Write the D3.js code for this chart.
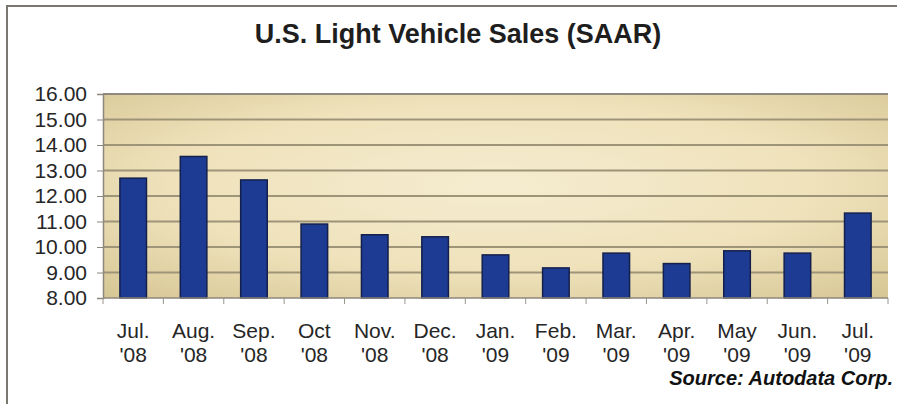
<!DOCTYPE html>
<html>
<head>
<meta charset="utf-8">
<style>
  body { margin: 0; background: #fff; }
  svg { display: block; font-family: "Liberation Sans", Arial, sans-serif; }
</style>
</head>
<body>
<svg width="897" height="404"></svg>
<script src="https://d3js.org/d3.v7.min.js"></script>
<script>
// chart data
var months = ["Jul.", "Aug.", "Sep.", "Oct", "Nov.", "Dec.", "Jan.", "Feb.", "Mar.", "Apr.", "May", "Jun.", "Jul."];
var years  = ["'08", "'08", "'08", "'08", "'08", "'08", "'09", "'09", "'09", "'09", "'09", "'09", "'09"];
var sales  = [12.70, 13.55, 12.63, 10.90, 10.48, 10.40, 9.69, 9.18, 9.76, 9.35, 9.85, 9.76, 11.33];
var yTicks = [8, 9, 10, 11, 12, 13, 14, 15, 16];

var data = months.map(function(m, i) {
  return { key: i, month: m, year: years[i], value: sales[i] };
});

var svg = d3.select("svg"),
    margin = { top: 94, right: 9, bottom: 106, left: 103 },
    width = +svg.attr("width") - margin.left - margin.right,
    height = +svg.attr("height") - margin.top - margin.bottom;

// outer frame: only top and left edges show
svg.append("path")
    .attr("d", "M7,404V6H897")
    .attr("fill", "none")
    .attr("stroke", "#7a7670")
    .attr("stroke-width", 2);

svg.append("text")
    .attr("x", 458)
    .attr("y", 43)
    .attr("text-anchor", "middle")
    .attr("font-size", 27)
    .attr("font-weight", "bold")
    .attr("fill", "#1e1e1e")
    .text("U.S. Light Vehicle Sales (SAAR)");

var defs = svg.append("defs");
var grad = defs.append("radialGradient")
    .attr("id", "bg")
    .attr("cx", "0.5").attr("cy", "0.45").attr("r", "0.75");
grad.append("stop").attr("offset", "0%").attr("stop-color", "#f5ecd0");
grad.append("stop").attr("offset", "55%").attr("stop-color", "#efe2bb");
grad.append("stop").attr("offset", "100%").attr("stop-color", "#d6c593");

var g = svg.append("g").attr("transform", "translate(" + margin.left + "," + margin.top + ")");

var x = d3.scaleBand()
    .domain(data.map(function(d) { return d.key; }))
    .range([0, width])
    .paddingInner(0.56)
    .paddingOuter(0.28);

var y = d3.scaleLinear()
    .domain([8, 16])
    .range([height, 0]);

g.append("rect")
    .attr("width", width)
    .attr("height", height)
    .attr("fill", "url(#bg)");

// gridlines
g.selectAll(".grid")
  .data(yTicks.slice(1))
  .enter().append("line")
    .attr("class", "grid")
    .attr("x1", 0)
    .attr("x2", width)
    .attr("y1", function(d) { return y(d); })
    .attr("y2", function(d) { return y(d); })
    .attr("stroke", function(d) { return d == 16 ? "#8f8a80" : "#9e9478"; })
    .attr("stroke-width", 2);

// y axis
var yAxis = g.append("g")
    .call(d3.axisLeft(y).tickValues(yTicks).tickFormat(d3.format(".2f")).tickSize(6).tickPadding(10));
yAxis.select(".domain").attr("stroke", "#8c877c").attr("stroke-width", 1.5);
yAxis.selectAll(".tick line").attr("stroke", "#8c877c");
yAxis.selectAll("text")
    .attr("font-size", 21)
    .attr("fill", "#262626")
    .attr("font-family", "Liberation Sans, Arial, sans-serif");

// bars
g.selectAll(".bar")
  .data(data)
  .enter().append("rect")
    .attr("class", "bar")
    .attr("x", function(d) { return x(d.key); })
    .attr("y", function(d) { return y(d.value); })
    .attr("width", x.bandwidth())
    .attr("height", function(d) { return height - y(d.value); })
    .attr("fill", "#1d3b92")
    .attr("stroke", "#14204c")
    .attr("stroke-width", 1.5);

// x axis line and ticks between categories
g.append("line")
    .attr("x1", 0).attr("x2", width)
    .attr("y1", height).attr("y2", height)
    .attr("stroke", "#8c877c")
    .attr("stroke-width", 1.5);

g.selectAll(".xtick")
  .data(d3.range(data.length + 1))
  .enter().append("line")
    .attr("class", "xtick")
    .attr("x1", function(i) { return i * width / data.length; })
    .attr("x2", function(i) { return i * width / data.length; })
    .attr("y1", height)
    .attr("y2", height + 6)
    .attr("stroke", "#9a958b");

var labels = g.selectAll(".xlabel")
  .data(data)
  .enter().append("text")
    .attr("class", "xlabel")
    .attr("transform", function(d) { return "translate(" + (x(d.key) + x.bandwidth() / 2) + "," + (height + 40) + ")"; })
    .attr("text-anchor", "middle")
    .attr("font-size", 21)
    .attr("fill", "#262626");
labels.append("tspan").attr("x", 0).attr("y", 0).text(function(d) { return d.month; });
labels.append("tspan").attr("x", 0).attr("y", 24).text(function(d) { return d.year; });

svg.append("text")
    .attr("x", 893)
    .attr("y", 385)
    .attr("text-anchor", "end")
    .attr("font-size", 20)
    .attr("font-weight", "bold")
    .attr("font-style", "italic")
    .attr("fill", "#111")
    .text("Source: Autodata Corp.");
</script>
</body>
</html>
